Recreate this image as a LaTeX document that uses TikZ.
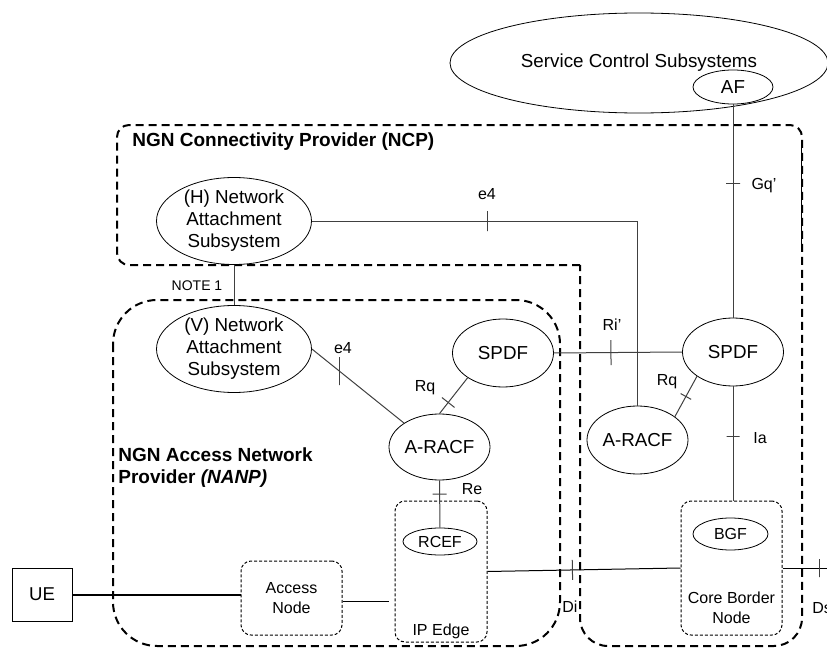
\documentclass[tikz,border=0pt]{standalone}
\usepackage{fontspec}
\setmainfont{Liberation Sans}
\usetikzlibrary{shapes.geometric}

\begin{document}
\begin{tikzpicture}[x=0.5pt,y=-0.5pt,
        ell/.style={draw, ellipse, inner sep=0pt, align=center, font=\fontsize{9.4}{11}\selectfont},
        dotbox/.style={draw, rounded corners=5pt, dash pattern=on 1.5pt off 1pt, line width=0.5pt, align=center, font=\fontsize{8}{10}\selectfont},
        region/.style={draw, line width=1pt, dash pattern=on 4pt off 2.5pt},
        conn/.style={draw=black!75, line width=0.5pt},
        ifc/.style={draw=black!75, line width=0.5pt, rectangle, minimum height=#1, minimum width=0pt, inner sep=0pt, outer sep=0pt},
        ifc/.default=7pt,
        lbl/.style={inner sep=0pt, font=\fontsize{8}{10}\selectfont},
        domtitle/.style={inner sep=0pt, align=left, font=\fontsize{9.5}{11}\selectfont\bfseries}]

                \useasboundingbox (0,0) rectangle (827,648);

                % provider domains
                \draw[region] (580,265) [rounded corners=6pt] -- (117,265) -- (117,125) -- (802,125) [rounded corners=14pt] -- (802,646) -- (580,646) -- (580,265);
                \draw[thin] (801,144) -- (801,249);
                \draw[region, rounded corners=22pt] (113,300) rectangle (560,646);
                \node[domtitle, anchor=west] (ncp) at (132,142) {NGN Connectivity Provider (NCP)};
                \node[domtitle, anchor=west] (nanp) at (118,468) {NGN Access Network\\Provider \textit{(NANP)}};

                % functional entities
                \node[ell, minimum width=189pt, minimum height=50pt] (scs) at (639,63) {Service Control Subsystems};
                \node[ell, minimum width=40pt, minimum height=17pt] (af) at (733,87) {AF};
                \node[ell, minimum width=77.5pt, minimum height=43.5pt] (hnas) at (234,221) {(H) Network\\Attachment\\Subsystem};
                \node[ell, minimum width=77.5pt, minimum height=43.5pt] (vnas) at (234,349) {(V) Network\\Attachment\\Subsystem};
                \node[ell, minimum width=50.5pt, minimum height=34pt] (spdfA) at (503,353) {SPDF};
                \node[ell, minimum width=50.5pt, minimum height=34pt] (spdfC) at (733,352) {SPDF};
                \node[ell, minimum width=50.5pt, minimum height=33pt] (aracfA) at (439.5,447) {A-RACF};
                \node[ell, minimum width=50.5pt, minimum height=34pt] (aracfC) at (637.5,440) {A-RACF};

                \node[draw, minimum width=30pt, minimum height=26.5pt, font=\fontsize{9.3}{11}\selectfont] (ue) at (42,594.5) {UE};
                \node[dotbox, minimum width=50.5pt, minimum height=37pt] (an) at (291.5,598) {Access\\Node};
                \node[dotbox, minimum width=46pt, minimum height=70.5pt, label={[lbl, anchor=south, yshift=1.5pt]south:IP Edge}] (ipe) at (441,571.5) {};
                \node[dotbox, minimum width=50.5pt, minimum height=67pt, label={[lbl, align=center, anchor=south, yshift=5.5pt]south:Core Border\\Node}] (cbn) at (731.5,568) {};
                \node[ell, minimum width=37pt, minimum height=13.5pt, font=\fontsize{8}{10}\selectfont] (rcef) at (440,541.5) {RCEF};
                \node[ell, minimum width=37.5pt, minimum height=16pt, font=\fontsize{8}{10}\selectfont] (bgf) at (730.5,534) {BGF};
                \coordinate (dsend) at (830,568);

                % reference points
                \draw[conn] (af.south) -- node[ifc, sloped, pos=.37] {} (spdfC.north);
                \draw[conn] (hnas.east) -| node[ifc=10pt, sloped, pos=.27] {} (aracfC.north);
                \draw[conn] (hnas.south) -- (vnas.north);
                \draw[conn] (vnas.east) -- node[ifc=14pt, pos=.3] {} (aracfA.146);
                \draw[conn] (aracfA.north) -- node[ifc=8pt, sloped, pos=.31] {} (spdfA.215);
                \draw[conn] (spdfA.east) -- node[ifc=12.5pt, sloped, pos=.445] {} (spdfC.west);
                \draw[conn] (spdfC.214) -- node[ifc=6pt, sloped, pos=.5] {} (aracfC.32);
                \draw[conn] (spdfC.south) -- node[ifc=6.5pt, sloped, pos=.44] {} (spdfC.south |- cbn.north);
                \draw[conn] (aracfA.south) -- node[ifc=7pt, sloped, pos=.29] {} (rcef.north);
                \draw[line width=1pt] (ue.east) -- (ue.east -| an.west);
                \draw[conn, black, shorten >=3pt] (an.east |- 0,601) -- (ipe.west |- 0,601);
                \draw[conn, black] (ipe.east) -- node[ifc=10pt, sloped, pos=.44] {} (cbn.west);
                \draw[conn, black] (cbn.east) -- node[ifc=9pt, sloped, pos=.77] {} (dsend);

                \node[lbl, font=\fontsize{7}{8}\selectfont] (note) at (197,286) {NOTE 1};
                \node[lbl] (e4top) at (487,194) {e4};
                \node[lbl] (e4low) at (343,348) {e4};
                \node[lbl] (rqA) at (425,388) {Rq};
                \node[lbl] (rqC) at (667,382) {Rq};
                \node[lbl] (ri) at (612,325) {Ri'};
                \node[lbl] (gq) at (764,186) {Gq'};
                \node[lbl] (ia) at (760,438) {Ia};
                \node[lbl] (re) at (472,489) {Re};
                \node[lbl] (di) at (570,607) {Di};
                \node[lbl, anchor=west] (ds) at (812,608) {Ds};
            \end{tikzpicture}
\end{document}
